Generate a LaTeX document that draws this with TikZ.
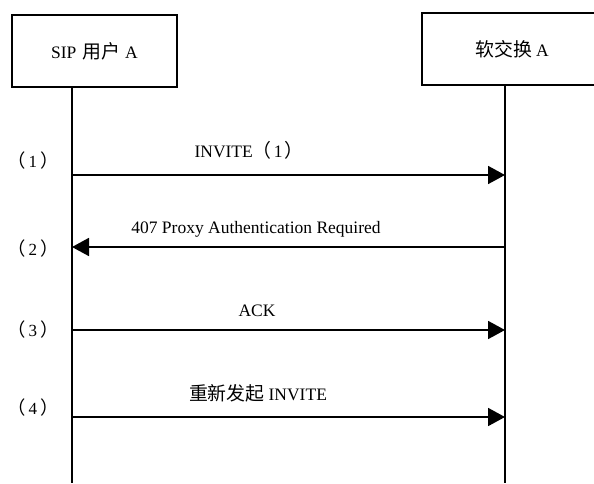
\documentclass[tikz,border=0pt]{standalone}
\usepackage{fontspec}
\setmainfont{Liberation Serif}
\newfontfamily\cjk[Scale=1.08]{Noto Sans CJK SC}
\usetikzlibrary{arrows.meta}
\begin{document}
\begin{tikzpicture}[x=1pt,y=-1pt,
  font=\fontsize{17.5}{20}\selectfont,
  actor/.style={draw,line width=1.8pt,minimum height=72pt,inner sep=0pt},
  life/.style={line width=1.3pt},
  msg/.style={line width=1.8pt,-{Triangle[length=17pt,width=18pt]}},
  lbl/.style={inner sep=0pt},
  num/.style={inner sep=0pt,font=\fontsize{17}{19}\selectfont}]
\useasboundingbox (0,0) rectangle (594,483);
\fill[white] (0,0) rectangle (594,483);
% actors
\node[actor,minimum width=165pt] (ua) at (94.5,51) {SIP\hspace{6pt}{\cjk 用户}\hspace{5pt}A};
\node[actor,minimum width=180pt] (sw) at (512,49) {{\cjk 软交换}\hspace{4pt}A};
% lifelines
\coordinate (ua1) at (72,87);
\coordinate (ua2) at (72,483);
\coordinate (sw1) at (505,85);
\coordinate (sw2) at (505,483);
\draw[life] (ua1) -- (ua2);
\draw[life] (sw1) -- (sw2);
% message endpoints
\coordinate (a1) at (72,175);  \coordinate (b1) at (505,175);
\coordinate (a2) at (72,247);  \coordinate (b2) at (505,247);
\coordinate (a3) at (72,330);  \coordinate (b3) at (505,330);
\coordinate (a4) at (72,417);  \coordinate (b4) at (505,417);
\draw[msg] (a1) -- (b1);
\draw[msg] (b2) -- (a2);
\draw[msg] (a3) -- (b3);
\draw[msg] (a4) -- (b4);
% message labels
\node[lbl] (m1) at (249,150) {INVITE{\cjk（}\hspace{2pt}1\hspace{2pt}{\cjk）}};
\node[lbl] (m2) at (256,229) {407 Proxy Authentication Required};
\node[lbl] (m3) at (257,311) {ACK};
\node[lbl] (m4) at (258,393) {{\cjk 重新发起}\hspace{4pt}INVITE};
% step numbers
\node[num] (n1) at (33,161) {{\cjk（}\hspace{3pt}1\hspace{3pt}{\cjk）}};
\node[num] (n2) at (33,249) {{\cjk（}\hspace{3pt}2\hspace{3pt}{\cjk）}};
\node[num] (n3) at (33,330) {{\cjk（}\hspace{3pt}3\hspace{3pt}{\cjk）}};
\node[num] (n4) at (33,408) {{\cjk（}\hspace{3pt}4\hspace{3pt}{\cjk）}};
\end{tikzpicture}
\end{document}
